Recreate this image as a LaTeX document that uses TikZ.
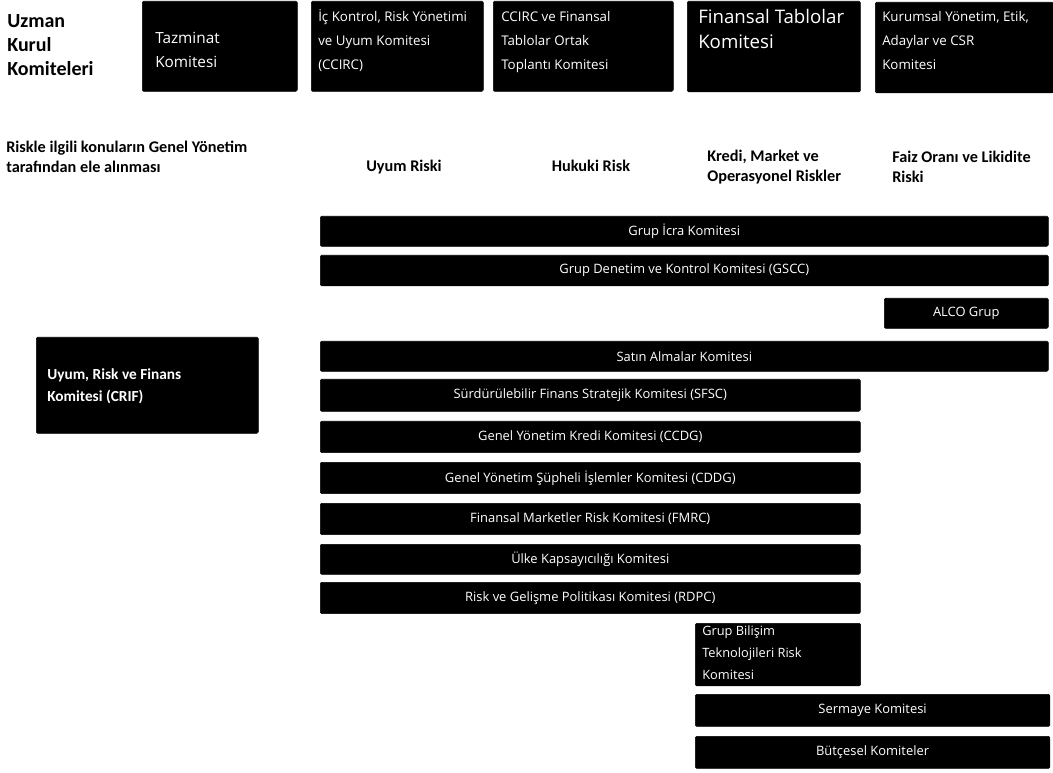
\documentclass[tikz,border=0pt]{standalone}
\usepackage{fontspec}
\setmainfont{Carlito}
\newfontfamily\osans{Open Sans}
\begin{document}
\begin{tikzpicture}[x=0.75pt,y=-0.75pt,
  blk/.style={fill=black, draw=black, rounded corners=1pt, inner sep=0pt, anchor=north west},
  bartxt/.style={text=white, font=\osans\fontsize{9.7}{11}\selectfont},
  toptxt/.style={text=white, anchor=base west, align=left, inner sep=0pt, font=\osans\fontsize{10}{18}\selectfont},
  bigtxt/.style={text=white, anchor=base west, align=left, inner sep=0pt},
  lbl/.style={anchor=base west, align=left, inner sep=0pt, font=\bfseries\fontsize{12.2}{15}\selectfont},
  clbl/.style={anchor=base, inner sep=0pt, font=\bfseries\fontsize{12.2}{15}\selectfont}]
\useasboundingbox (0,0) rectangle (1053,773);
\fill[white] (0,0) rectangle (1053,773);

% header
\node[anchor=base west, align=left, inner sep=0pt, font=\bfseries\fontsize{15}{18}\selectfont] (hdr) at (7,76) {Uzman\\Kurul\\Komiteleri};

% top boxes
\node[blk, minimum width=116.25pt, minimum height=67.5pt] (taz) at (142,1) {};
\node[bigtxt, font=\osans\fontsize{11.5}{18}\selectfont] (tazT) at (155,68) {Tazminat\\Komitesi};
\node[blk, minimum width=129pt, minimum height=67.5pt] (ick) at (311,1) {};
\node[toptxt] (ickT) at (318,70) {İç Kontrol, Risk Yönetimi\\ve Uyum Komitesi\\(CCIRC)};
\node[blk, minimum width=135pt, minimum height=67.5pt] (ccirc) at (493,1) {};
\node[toptxt] (ccircT) at (501,70) {CCIRC ve Finansal\\Tablolar Ortak\\Toplantı Komitesi};
\node[blk, minimum width=129.75pt, minimum height=68pt] (fint) at (687,1) {};
\node[bigtxt, font=\osans\fontsize{14}{19}\selectfont] (fintT) at (698,49) {Finansal Tablolar\\Komitesi};
\node[blk, minimum width=133.5pt, minimum height=68pt] (kur) at (875,2) {};
\node[toptxt] (kurT) at (882,70) {Kurumsal Yönetim, Etik,\\Adaylar ve CSR\\Komitesi};

% labels
\node[lbl] (ris) at (6,173) {Riskle ilgili konuların Genel Yönetim\\tarafından ele alınması};
\node[clbl] (uyum) at (404,172) {Uyum Riski};
\node[clbl] (huk) at (591,172) {Hukuki Risk};
\node[lbl] (kredi) at (707,182) {Kredi, Market ve\\Operasyonel Riskler};
\node[lbl] (faiz) at (892,183) {Faiz Oranı ve Likidite\\Riski};

% wide bars
\node[blk, bartxt, minimum width=546pt, minimum height=22.5pt] (gic) at (320,216) {Grup İcra Komitesi};
\node[blk, bartxt, minimum width=546pt, minimum height=23pt] (gdk) at (320,255) {Grup Denetim ve Kontrol Komitesi (GSCC)};
\node[blk, bartxt, minimum width=123pt, minimum height=22.5pt] (alco) at (884,298) {ALCO Grup};
\node[blk, bartxt, minimum width=546pt, minimum height=22.5pt] (sat) at (320,341) {Satın Almalar Komitesi};

% CRIF
\node[blk, minimum width=166.5pt, minimum height=72pt] (crif) at (36,337) {};
\node[anchor=base west, align=left, inner sep=0pt, text=white, font=\bfseries\fontsize{11.5}{16.5}\selectfont] (crifT) at (47,402) {Uyum, Risk ve Finans\\Komitesi (CRIF)};

% medium bars
\node[blk, bartxt, minimum width=405pt, minimum height=24pt] (sfsc) at (320,379) {Sürdürülebilir Finans Stratejik Komitesi (SFSC)};
\node[blk, bartxt, minimum width=405pt, minimum height=23.5pt] (ccdg) at (320,421) {Genel Yönetim Kredi Komitesi (CCDG)};
\node[blk, bartxt, minimum width=405pt, minimum height=23.5pt] (cddg) at (320,462) {Genel Yönetim Şüpheli İşlemler Komitesi (CDDG)};
\node[blk, bartxt, minimum width=405pt, minimum height=23.5pt] (fmrc) at (320,503) {Finansal Marketler Risk Komitesi (FMRC)};
\node[blk, bartxt, minimum width=405pt, minimum height=22.5pt] (ulke) at (320,544) {Ülke Kapsayıcılığı Komitesi};
\node[blk, bartxt, minimum width=405pt, minimum height=23.5pt] (rdpc) at (320,582) {Risk ve Gelişme Politikası Komitesi (RDPC)};

% lower boxes
\node[blk, minimum width=124pt, minimum height=47pt] (gbt) at (695,623) {};
\node[anchor=base west, align=left, inner sep=0pt, text=white, font=\osans\fontsize{9.6}{16.5}\selectfont] (gbtT) at (702,679) {Grup Bilişim\\Teknolojileri Risk\\Komitesi};
\node[blk, bartxt, minimum width=266pt, minimum height=24pt] (serm) at (695,694) {Sermaye Komitesi};
\node[blk, bartxt, minimum width=266pt, minimum height=24pt] (butce) at (695,736) {Bütçesel Komiteler};
\end{tikzpicture}
\end{document}
